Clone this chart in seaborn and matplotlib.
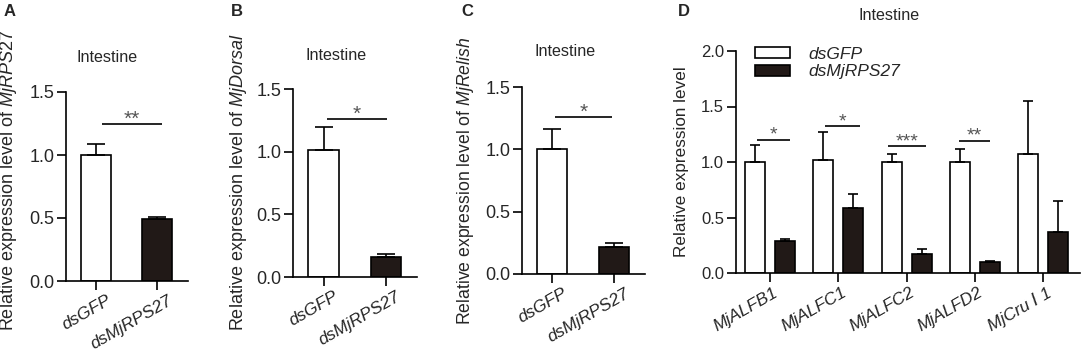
import numpy as np
import pandas as pd
import matplotlib
matplotlib.use("Agg")
import matplotlib.pyplot as plt
import matplotlib.transforms as mtransforms
import seaborn as sns

# ---------------- data ----------------
groups = ["dsGFP", "dsMjRPS27"]

a_mean = [1.00, 0.49]
a_err = [0.09, 0.02]
b_mean = [1.01, 0.16]
b_err = [0.19, 0.02]
c_mean = [1.00, 0.22]
c_err = [0.16, 0.03]

genes = ["MjALFB1", "MjALFC1", "MjALFC2", "MjALFD2", "MjCru \u2160 1"]
d_gfp_mean = [1.00, 1.02, 1.00, 1.00, 1.07]
d_gfp_err = [0.15, 0.25, 0.07, 0.12, 0.48]
d_rps_mean = [0.29, 0.59, 0.17, 0.10, 0.37]
d_rps_err = [0.02, 0.12, 0.05, 0.01, 0.28]

# significance: (x_start, x_end, y, label)
a_sig = [(0.10, 1.07, 1.25, "**")]
b_sig = [(0.05, 1.02, 1.26, "*")]
c_sig = [(0.05, 0.97, 1.26, "*")]
d_sig = [(-0.19, 0.29, 1.20, "*"), (0.81, 1.32, 1.32, "*"),
         (1.72, 2.29, 1.14, "***"), (2.77, 3.22, 1.19, "**")]

ylabels = ["Relative expression level of $\\mathit{MjRPS27}$",
           "Relative expression level of $\\mathit{MjDorsal}$",
           "Relative expression level of $\\mathit{MjRelish}$",
           "Relative expression level"]

# ---------------- style ----------------
sns.set_style("ticks")
plt.rcParams["font.family"] = ["Liberation Sans", "DejaVu Sans"]
plt.rcParams["mathtext.fontset"] = "custom"
plt.rcParams["mathtext.rm"] = "Liberation Sans"
plt.rcParams["mathtext.it"] = "Liberation Sans:italic"

W, H = 1084, 357
fig = plt.figure(figsize=(W / 100, H / 100), dpi=100)

WHITE = "white"
DARK = "#231815"
STAR = "#555555"
LW = 1.2


def add_axes(left, right, top, bottom):
    return fig.add_axes([left / W, 1 - bottom / H, (right - left) / W, (bottom - top) / H])


def style(ax, fs):
    sns.despine(ax=ax)
    for s in ["left", "bottom"]:
        ax.spines[s].set_linewidth(LW)
        ax.spines[s].set_color("black")
    ax.tick_params(axis="both", direction="out", length=6.5, width=LW,
                   color="black", labelsize=fs, pad=2)


def sig(ax, items, fs, dy_pt):
    for x0, x1, y, lab in items:
        ax.plot([x0, x1], [y, y], color="black", lw=LW, solid_capstyle="butt")
        ax.annotate(lab, xy=((x0 + x1) / 2, y), xytext=(0, dy_pt),
                    textcoords="offset points", ha="center", va="baseline",
                    fontsize=fs, color=STAR)


def shift_xlabels(ax, dx_px):
    off = mtransforms.ScaledTranslation(dx_px / 100, 0, fig.dpi_scale_trans)
    for t in ax.get_xticklabels():
        t.set_transform(t.get_transform() + off)


def simple_panel(ax, means, errs, sigs, ylabel, lab_fs, lab_x, lab_y):
    df = pd.DataFrame({"group": groups, "value": means})
    sns.barplot(data=df, x="group", y="value", hue="group", order=groups,
                hue_order=groups, palette=[WHITE, DARK], width=0.49,
                edgecolor="black", linewidth=LW, errorbar=None,
                legend=False, ax=ax)
    bars = sorted(ax.patches, key=lambda p: p.get_x())
    for bar, m, e in zip(bars, means, errs):
        xc = bar.get_x() + bar.get_width() / 2
        ax.errorbar([xc], [m], yerr=[[0], [e]], fmt="none", ecolor="black",
                    elinewidth=LW, capsize=6.5, capthick=LW, zorder=1)
    ax.set_xlim(-0.49, 1.5)
    ax.set_ylim(0, 1.5)
    ax.set_yticks([0, 0.5, 1.0, 1.5])
    ax.set_yticklabels(["0.0", "0.5", "1.0", "1.5"])
    style(ax, 13)
    ax.set_xlabel("")
    ax.set_ylabel(ylabel, fontsize=lab_fs)
    ax.yaxis.set_label_coords(lab_x, lab_y)
    ax.set_xticks([0, 1])
    ax.set_xticklabels(groups, rotation=30, ha="right", va="top",
                       rotation_mode="anchor", fontstyle="italic", fontsize=12.5)
    shift_xlabels(ax, 10)
    sig(ax, sigs, 15, -0.8)


axA = add_axes(66, 188, 92, 281)
simple_panel(axA, a_mean, a_err, a_sig, ylabels[0], 13.0, -0.385, 0.53)
axB = add_axes(293, 417, 89, 277)
simple_panel(axB, b_mean, b_err, b_sig, ylabels[1], 13.0, -0.355, 0.505)
axC = add_axes(522, 645, 87, 274)
simple_panel(axC, c_mean, c_err, c_sig, ylabels[2], 12.7, -0.374, 0.50)

# ---------------- panel D ----------------
axD = add_axes(736, 1080, 51, 273)
dfD = pd.DataFrame({
    "gene": genes * 2,
    "value": d_gfp_mean + d_rps_mean,
    "treat": [groups[0]] * len(genes) + [groups[1]] * len(genes),
})
sns.barplot(data=dfD, x="gene", y="value", hue="treat", order=genes,
            hue_order=groups, palette=[WHITE, DARK], width=0.88, gap=0.33,
            edgecolor="black", linewidth=LW, errorbar=None, ax=axD)
for cont, means, errs in zip(axD.containers, [d_gfp_mean, d_rps_mean],
                             [d_gfp_err, d_rps_err]):
    for bar, m, e in zip(cont, means, errs):
        xc = bar.get_x() + bar.get_width() / 2
        axD.errorbar([xc], [m], yerr=[[0], [e]], fmt="none", ecolor="black",
                     elinewidth=LW, capsize=3.6, capthick=LW, zorder=1)
axD.set_xlim(-0.5, 4.54)
axD.set_ylim(0, 2.0)
axD.set_yticks([0, 0.5, 1.0, 1.5, 2.0])
axD.set_yticklabels(["0.0", "0.5", "1.0", "1.5", "2.0"])
style(axD, 12)
axD.set_xlabel("")
axD.set_ylabel(ylabels[3], fontsize=12.3)
axD.yaxis.set_label_coords(-0.137, 0.5)
axD.set_xticks(range(len(genes)))
axD.set_xticklabels(genes, rotation=30, ha="right", va="top",
                    rotation_mode="anchor", fontstyle="italic", fontsize=12.5)
shift_xlabels(axD, 3)
sig(axD, d_sig, 14, 0.3)
leg = axD.legend(loc="upper left", bbox_to_anchor=((755 - 736) / 344, 1.02),
                 frameon=False, fontsize=12.5, handlelength=2.0,
                 handleheight=0.6, handletextpad=1.1, labelspacing=0.15,
                 borderpad=0, borderaxespad=0)
for t in leg.get_texts():
    t.set_fontstyle("italic")
for h in leg.legend_handles:
    h.set_edgecolor("black")
    h.set_linewidth(LW)

# ---------------- titles and letters ----------------
for x, y in [(107, 57), (336, 56), (565, 52), (889, 15)]:
    fig.text(x / W, 1 - y / H, "Intestine", ha="center", va="center", fontsize=11.6)
for x, lab in [(10, "A"), (237, "B"), (467, "C"), (684, "D")]:
    fig.text(x / W, 1 - 11 / H, lab, ha="center", va="center",
             fontsize=12, fontweight="bold")

fig.savefig("out.png", dpi=100)
